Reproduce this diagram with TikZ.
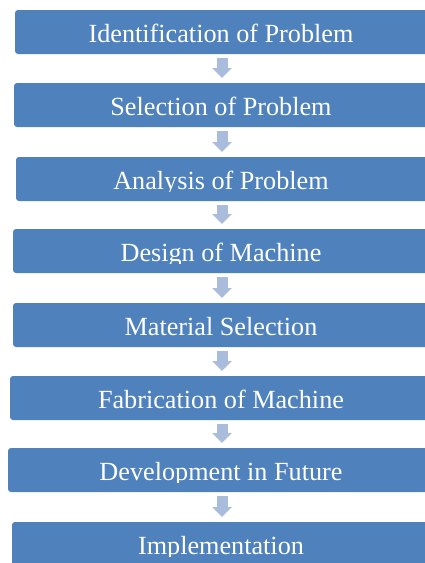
\documentclass[tikz,border=0pt]{standalone}
\usepackage{fontspec}
\setmainfont{Liberation Serif}
\usetikzlibrary{arrows.meta}
\definecolor{boxblue}{HTML}{4F81BD}
\definecolor{arrowblue}{HTML}{A9BCDC}
\tikzset{
  stepbox/.style={fill=boxblue, rounded corners=3pt, minimum width=470pt, minimum height=44pt, inner sep=0pt, outer sep=0pt, anchor=north west},
  steptext/.style={text=white, font=\fontsize{26.2}{30}\selectfont, inner sep=0pt, anchor=base},
  flowarrow/.style={draw=arrowblue, line width=11pt, -{Triangle[width=19pt,length=10pt]}, shorten <=4pt, shorten >=5pt}
}
\newcommand\flowstep[4]{%
  \node[stepbox] (#1) at (#2,#3) {};
  \begin{scope}
    \clip (0,#3) rectangle (440,#3+34);
    \node[steptext] (#1t) at (221,#3+32) {#4};
  \end{scope}}
\begin{document}
\begin{tikzpicture}[x=1pt,y=-1pt]
  \fill[white] (0,0) rectangle (424,563);
  \useasboundingbox (0,0) rectangle (424,563);
  \coordinate (ax) at (222,0);
  \flowstep{b1}{15}{10}{Identification of Problem}
  \flowstep{b2}{14}{83}{Selection of Problem}
  \flowstep{b3}{16}{157}{Analysis of Problem}
  \flowstep{b4}{13}{229}{Design of Machine}
  \flowstep{b5}{13}{303}{Material Selection}
  \flowstep{b6}{10}{376}{Fabrication of Machine}
  \flowstep{b7}{8}{448}{Development in Future}
  \flowstep{b8}{12}{522}{Implementation}
  \foreach \a/\b in {b1/b2,b2/b3,b3/b4,b4/b5,b5/b6,b6/b7,b7/b8}
    \draw[flowarrow] (\a.south -| ax) -- (\b.north -| ax);
\end{tikzpicture}
\end{document}
